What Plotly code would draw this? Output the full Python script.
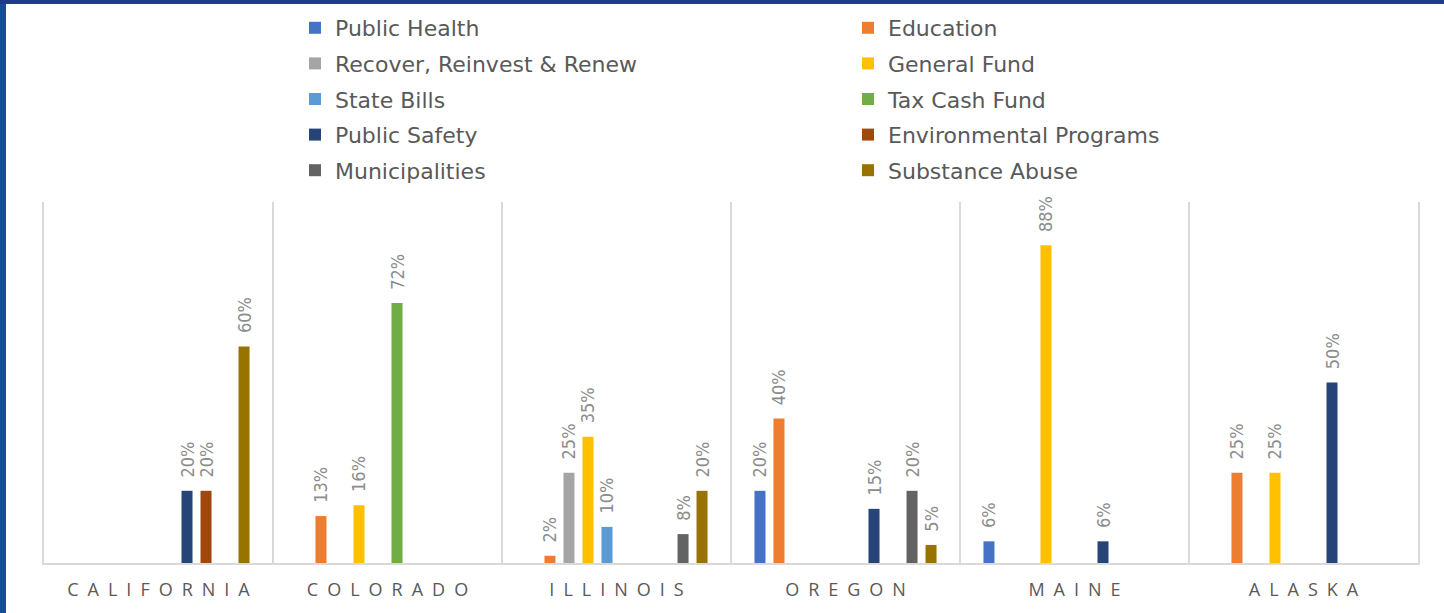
import plotly.graph_objects as go

categories = ["CALIFORNIA", "COLORADO", "ILLINOIS", "OREGON", "MAINE", "ALASKA"]

series_names = [
    "Public Health", "Education", "Recover, Reinvest & Renew", "General Fund",
    "State Bills", "Tax Cash Fund", "Public Safety", "Environmental Programs",
    "Municipalities", "Substance Abuse",
]

public_health = [None, None, None, 20, 6, None]
education = [None, 13, 2, 40, None, 25]
recover_reinvest_renew = [None, None, 25, None, None, None]
general_fund = [None, 16, 35, None, 88, 25]
state_bills = [None, None, 10, None, None, None]
tax_cash_fund = [None, 72, None, None, None, None]
public_safety = [20, None, None, 15, 6, 50]
environmental_programs = [20, None, None, None, None, None]
municipalities = [None, None, 8, 20, None, None]
substance_abuse = [60, None, 20, 5, None, None]

series_values = [
    public_health, education, recover_reinvest_renew, general_fund, state_bills,
    tax_cash_fund, public_safety, environmental_programs, municipalities, substance_abuse,
]

colors = ["#4472C4", "#ED7D31", "#A5A5A5", "#FFC000", "#5B9BD5",
          "#70AD47", "#264478", "#9E480E", "#636363", "#997300"]

tick_labels = ["\u2002".join(c) for c in categories]

W, H = 1444, 613
ML, MR, MT, MB = 44, 26, 202, 50
PW, PH = W - ML - MR, H - MT - MB


def px_x(p):
    return (p - ML) / PW


def px_y(p):
    return (H - MB - p) / PH


fig = go.Figure()
for i, (name, vals, col) in enumerate(zip(series_names, series_values, colors)):
    fig.add_trace(go.Bar(
        name=name,
        x=categories,
        y=vals,
        marker=dict(color=col, line=dict(width=0)),
        text=[None if v is None else f"{v}%" for v in vals],
        texttemplate="\u00a0\u00a0%{text}",
        textposition="outside",
        textangle=-90,
        constraintext="none",
        cliponaxis=False,
        textfont=dict(family="Liberation Sans Narrow, DejaVu Sans Condensed, sans-serif",
                      size=18, color="#8c8c8c"),
        legend="legend" if i % 2 == 0 else "legend2",
        legendgroup=f"g{i}",
    ))

legend_font = dict(family="DejaVu Sans, sans-serif", size=22, color="#595959")

fig.update_layout(
    width=W, height=H,
    margin=dict(l=ML, r=MR, t=MT, b=MB, autoexpand=False),
    paper_bgcolor="white",
    plot_bgcolor="white",
    barmode="group",
    bargap=0.17,
    bargroupgap=0.42,
    showlegend=True,
    legend=dict(
        x=px_x(295), y=px_y(7), xanchor="left", yanchor="top",
        orientation="v", font=legend_font, tracegroupgap=4,
        bgcolor="rgba(0,0,0,0)",
    ),
    legend2=dict(
        x=px_x(848), y=px_y(7), xanchor="left", yanchor="top",
        orientation="v", font=legend_font, tracegroupgap=4,
        bgcolor="rgba(0,0,0,0)",
    ),
    xaxis=dict(
        type="category",
        tickmode="array", tickvals=categories, ticktext=tick_labels,
        tickson="boundaries", ticks="", ticklen=0,
        showgrid=True, gridcolor="#d9d9d9", gridwidth=2,
        showline=True, linecolor="#d9d9d9", linewidth=2,
        tickfont=dict(family="Open Sans, sans-serif", size=18, color="#595959"),
        ticklabelstandoff=9,
        fixedrange=True,
    ),
    yaxis=dict(
        range=[0, 100],
        showgrid=False, zeroline=False, showticklabels=False, ticks="",
        showline=True, mirror=True, linecolor="#d9d9d9", linewidth=2,
        fixedrange=True,
    ),
    shapes=[
        dict(type="rect", xref="paper", yref="paper",
             x0=px_x(0), x1=px_x(6), y0=px_y(H), y1=px_y(0),
             fillcolor="#1a4b9a", line=dict(width=0), layer="above"),
        dict(type="rect", xref="paper", yref="paper",
             x0=px_x(0), x1=px_x(W), y0=px_y(4), y1=px_y(0),
             fillcolor="#1f3b8c", line=dict(width=0), layer="above"),
    ],
)

fig.write_html("out.html",
               config={"displayModeBar": False},
               post_script="document.body.style.margin='0';document.body.style.overflow='hidden';")
